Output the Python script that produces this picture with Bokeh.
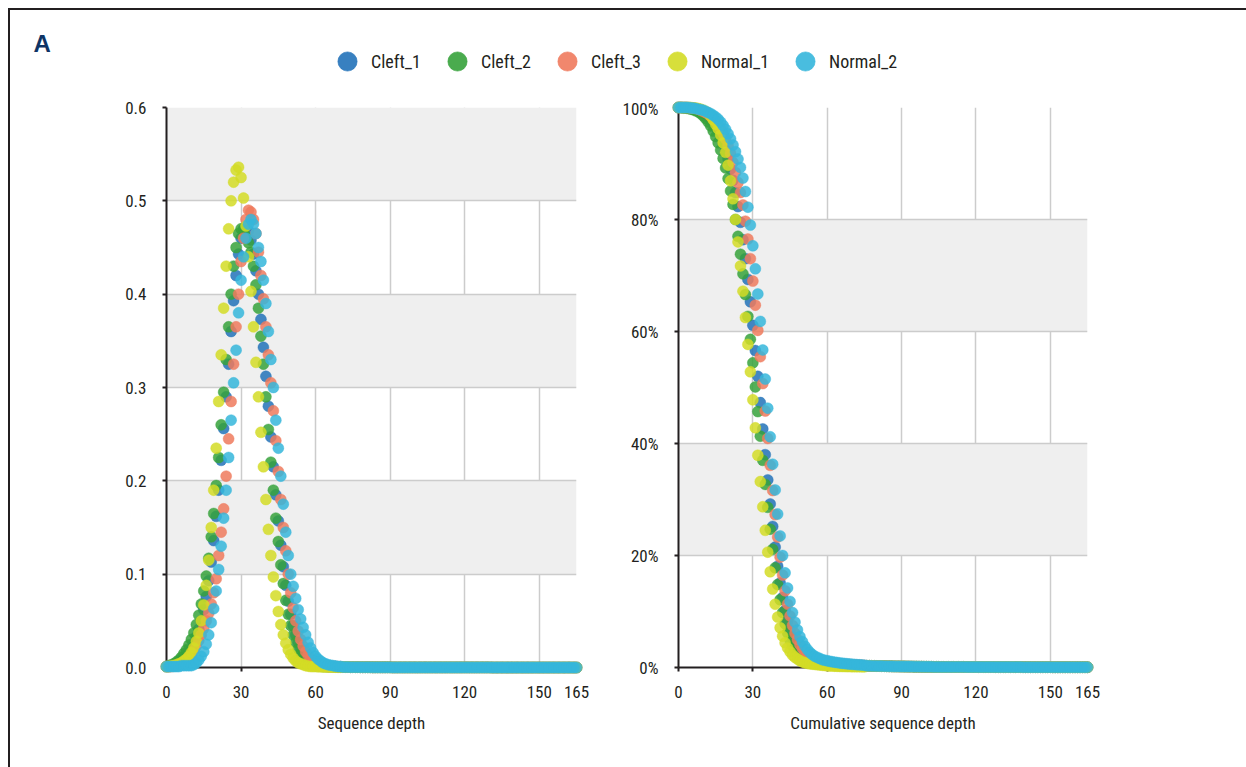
from bokeh.plotting import figure
from bokeh.layouts import column, row
from bokeh.models import (Range1d, FixedTicker, NumeralTickFormatter, Legend,
                          LegendItem, Label, ColumnDataSource)
from bokeh.embed import file_html
from bokeh.resources import INLINE

# ---------------- data ----------------
DEPTH = list(range(166))
X_TICKS = [0, 30, 60, 90, 120, 150, 165]
Y_TICKS_DENS = [0.0, 0.1, 0.2, 0.3, 0.4, 0.5, 0.6]
Y_TICKS_CUM = [0.0, 0.2, 0.4, 0.6, 0.8, 1.0]
SAMPLES = ["Cleft_1", "Cleft_2", "Cleft_3", "Normal_1", "Normal_2"]
COLORS = ["#2272b9", "#36a23b", "#ef7a5d", "#d3dc26", "#35b6db"]

# depth distribution, depth 0..70
C1_DENS = [0.001, 0.001, 0.002, 0.003, 0.004, 0.005, 0.007, 0.009, 0.012, 0.016,
           0.020, 0.026, 0.033, 0.041, 0.050, 0.062, 0.076, 0.093, 0.113, 0.136,
           0.162, 0.190, 0.222, 0.256, 0.290, 0.325, 0.360, 0.393, 0.420, 0.443,
           0.460, 0.470, 0.472, 0.468, 0.458, 0.443, 0.425, 0.400, 0.373, 0.343,
           0.312, 0.280, 0.247, 0.215, 0.185, 0.157, 0.131, 0.108, 0.088, 0.071,
           0.057, 0.045, 0.035, 0.027, 0.021, 0.016, 0.012, 0.009, 0.007, 0.005,
           0.004, 0.003, 0.0025, 0.002, 0.0015, 0.001, 0.001, 0.001, 0.001, 0.0008,
           0.0008]
C2_DENS = [0.001, 0.002, 0.003, 0.004, 0.006, 0.008, 0.011, 0.015, 0.019, 0.024,
           0.030, 0.037, 0.046, 0.056, 0.068, 0.082, 0.098, 0.117, 0.140, 0.165,
           0.195, 0.225, 0.260, 0.295, 0.330, 0.365, 0.400, 0.430, 0.450, 0.465,
           0.470, 0.468, 0.462, 0.455, 0.445, 0.430, 0.410, 0.385, 0.355, 0.325,
           0.290, 0.255, 0.220, 0.190, 0.160, 0.135, 0.110, 0.090, 0.072, 0.057,
           0.045, 0.035, 0.027, 0.020, 0.015, 0.011, 0.008, 0.006, 0.0045, 0.0035,
           0.0025, 0.002, 0.0015, 0.001, 0.001, 0.001, 0.001, 0.0008, 0.0008, 0.0006,
           0.0006]
C3_DENS = [0.001, 0.001, 0.001, 0.002, 0.002, 0.003, 0.004, 0.006, 0.008, 0.011,
           0.014, 0.018, 0.023, 0.029, 0.035, 0.042, 0.050, 0.058, 0.068, 0.080,
           0.095, 0.120, 0.145, 0.170, 0.205, 0.245, 0.285, 0.325, 0.365, 0.400,
           0.435, 0.460, 0.480, 0.490, 0.488, 0.480, 0.465, 0.445, 0.420, 0.395,
           0.365, 0.335, 0.305, 0.275, 0.243, 0.210, 0.180, 0.150, 0.125, 0.100,
           0.080, 0.064, 0.050, 0.039, 0.030, 0.023, 0.017, 0.013, 0.010, 0.007,
           0.005, 0.004, 0.003, 0.002, 0.0015, 0.001, 0.001, 0.001, 0.001, 0.0008,
           0.0008]
N1_DENS = [0.001, 0.001, 0.002, 0.002, 0.003, 0.004, 0.005, 0.007, 0.009, 0.012,
           0.016, 0.021, 0.028, 0.037, 0.050, 0.067, 0.088, 0.115, 0.150, 0.190,
           0.235, 0.285, 0.335, 0.385, 0.430, 0.470, 0.500, 0.520, 0.533, 0.536,
           0.525, 0.503, 0.473, 0.440, 0.403, 0.365, 0.327, 0.290, 0.252, 0.215,
           0.180, 0.148, 0.120, 0.097, 0.077, 0.060, 0.046, 0.035, 0.026, 0.019,
           0.014, 0.010, 0.007, 0.005, 0.004, 0.003, 0.002, 0.0015, 0.001, 0.001,
           0.001, 0.0008, 0.0008, 0.0006, 0.0006, 0.0005, 0.0005, 0.0004, 0.0004, 0.0003,
           0.0003]
N2_DENS = [0.001, 0.001, 0.001, 0.001, 0.001, 0.001, 0.002, 0.002, 0.002, 0.002,
           0.002, 0.003, 0.005, 0.008, 0.012, 0.017, 0.025, 0.035, 0.048, 0.063,
           0.082, 0.105, 0.130, 0.160, 0.190, 0.225, 0.265, 0.305, 0.340, 0.380,
           0.415, 0.440, 0.460, 0.475, 0.480, 0.475, 0.465, 0.450, 0.435, 0.415,
           0.390, 0.360, 0.330, 0.300, 0.265, 0.235, 0.205, 0.175, 0.145, 0.120,
           0.100, 0.087, 0.074, 0.062, 0.052, 0.043, 0.035, 0.027, 0.021, 0.016,
           0.012, 0.009, 0.007, 0.005, 0.004, 0.003, 0.0025, 0.002, 0.0015, 0.001,
           0.001]
# shared near-zero tail, depth 71..165
DENS_TAIL = [0.0005, 0.0005, 0.0005, 0.0004, 0.0004, 0.0004, 0.0004, 0.0003, 0.0003, 0.0003,
             0.0003, 0.0003, 0.0002, 0.0002, 0.0002, 0.0002, 0.0002, 0.0002, 0.0002, 0.0002,
             0.0001, 0.0001, 0.0001, 0.0001, 0.0001, 0.0001, 0.0001, 0.0001, 0.0001, 0.0001,
             0.0001, 0.0001, 0.0001, 0.0001, 0.0001, 0.0001, 0.0001, 0.0001, 0.0001, 0.0001,
             0.0001, 0.0001, 0.0001, 0.0001, 0.0001, 0.0001, 0.0001, 0.0001, 0.0001, 0.0001,
             0.0001, 0.0001, 0.0001, 0.0001, 0.0001, 0.0001, 0.0001, 0.0001, 0.0001, 0.0001,
             0.0, 0.0, 0.0, 0.0, 0.0, 0.0, 0.0, 0.0, 0.0, 0.0,
             0.0, 0.0, 0.0, 0.0, 0.0, 0.0, 0.0, 0.0, 0.0, 0.0,
             0.0, 0.0, 0.0, 0.0, 0.0, 0.0, 0.0, 0.0, 0.0, 0.0,
             0.0, 0.0, 0.0, 0.0, 0.0]

# cumulative fraction of bases with depth >= x, depth 0..75
C1_CUM = [1.0, 1.0, 1.0, 1.0, 0.999, 0.999, 0.998, 0.997, 0.995, 0.993,
          0.990, 0.987, 0.983, 0.978, 0.972, 0.965, 0.957, 0.948, 0.937, 0.924,
          0.908, 0.890, 0.870, 0.848, 0.823, 0.795, 0.764, 0.730, 0.693, 0.653,
          0.611, 0.566, 0.520, 0.473, 0.426, 0.380, 0.335, 0.292, 0.252, 0.215,
          0.181, 0.151, 0.125, 0.102, 0.083, 0.067, 0.054, 0.044, 0.036, 0.029,
          0.024, 0.020, 0.017, 0.014, 0.012, 0.011, 0.010, 0.009, 0.0085, 0.008,
          0.0075, 0.007, 0.0065, 0.006, 0.0057, 0.0054, 0.0051, 0.0048, 0.0045, 0.0043,
          0.0041, 0.0039, 0.0037, 0.0035, 0.0033, 0.0031]
C2_CUM = [1.0, 1.0, 0.999, 0.999, 0.998, 0.997, 0.996, 0.994, 0.992, 0.989,
          0.985, 0.980, 0.974, 0.967, 0.958, 0.948, 0.937, 0.924, 0.909, 0.892,
          0.873, 0.851, 0.827, 0.800, 0.770, 0.738, 0.703, 0.666, 0.627, 0.586,
          0.544, 0.501, 0.457, 0.413, 0.370, 0.327, 0.286, 0.247, 0.211, 0.178,
          0.148, 0.121, 0.098, 0.078, 0.062, 0.049, 0.039, 0.031, 0.025, 0.020,
          0.016, 0.013, 0.011, 0.0095, 0.0085, 0.0075, 0.007, 0.0065, 0.006, 0.0055,
          0.005, 0.0047, 0.0044, 0.0041, 0.0038, 0.0036, 0.0034, 0.0032, 0.003, 0.0029,
          0.0028, 0.0027, 0.0026, 0.0025, 0.0024, 0.0023]
C3_CUM = [1.0, 1.0, 1.0, 1.0, 1.0, 0.999, 0.999, 0.998, 0.997, 0.995,
          0.993, 0.991, 0.988, 0.984, 0.980, 0.975, 0.969, 0.962, 0.954, 0.944,
          0.932, 0.918, 0.902, 0.884, 0.866, 0.848, 0.826, 0.797, 0.765, 0.730,
          0.690, 0.647, 0.602, 0.555, 0.507, 0.458, 0.409, 0.361, 0.316, 0.273,
          0.233, 0.197, 0.165, 0.137, 0.113, 0.092, 0.075, 0.061, 0.050, 0.041,
          0.034, 0.028, 0.023, 0.020, 0.017, 0.015, 0.013, 0.012, 0.011, 0.010,
          0.009, 0.0085, 0.008, 0.0075, 0.007, 0.0066, 0.0062, 0.0058, 0.0055, 0.0052,
          0.0049, 0.0046, 0.0043, 0.004, 0.0038, 0.0036]
N1_CUM = [1.0, 1.0, 1.0, 1.0, 1.0, 1.0, 0.999, 0.999, 0.998, 0.997,
          0.995, 0.993, 0.990, 0.985, 0.978, 0.970, 0.962, 0.951, 0.937, 0.920,
          0.897, 0.869, 0.837, 0.800, 0.760, 0.717, 0.672, 0.625, 0.577, 0.528,
          0.478, 0.428, 0.379, 0.332, 0.287, 0.245, 0.206, 0.171, 0.140, 0.113,
          0.090, 0.071, 0.056, 0.044, 0.035, 0.028, 0.022, 0.018, 0.015, 0.012,
          0.010, 0.0085, 0.0075, 0.0065, 0.006, 0.0055, 0.005, 0.0045, 0.004, 0.0035,
          0.003, 0.0028, 0.0026, 0.0024, 0.0022, 0.002, 0.0019, 0.0018, 0.0017, 0.0016,
          0.0015, 0.0015, 0.0014, 0.0014, 0.0013, 0.0013]
N2_CUM = [1.0, 1.0, 1.0, 1.0, 1.0, 0.999, 0.999, 0.998, 0.997, 0.996,
          0.995, 0.993, 0.991, 0.989, 0.986, 0.983, 0.979, 0.974, 0.968, 0.961,
          0.953, 0.944, 0.933, 0.921, 0.908, 0.893, 0.874, 0.850, 0.822, 0.790,
          0.753, 0.712, 0.667, 0.618, 0.567, 0.515, 0.463, 0.412, 0.363, 0.317,
          0.274, 0.235, 0.200, 0.169, 0.142, 0.118, 0.098, 0.081, 0.067, 0.055,
          0.046, 0.038, 0.032, 0.027, 0.023, 0.020, 0.018, 0.016, 0.014, 0.013,
          0.012, 0.011, 0.0102, 0.0095, 0.0088, 0.0082, 0.0076, 0.0071, 0.0066, 0.0062,
          0.0058, 0.0054, 0.005, 0.0047, 0.0044, 0.0041]
# shared near-zero tail, depth 76..165
CUM_TAIL = [0.003, 0.003, 0.0029, 0.0028, 0.0027, 0.0026, 0.0025, 0.0024, 0.0023, 0.0022,
            0.0021, 0.002, 0.002, 0.0019, 0.0018, 0.0018, 0.0017, 0.0016, 0.0016, 0.0015,
            0.0015, 0.0014, 0.0014, 0.0013, 0.0013, 0.0012, 0.0012, 0.0011, 0.0011, 0.0011,
            0.001, 0.001, 0.001, 0.001, 0.001, 0.001, 0.001, 0.001, 0.001, 0.001,
            0.0009, 0.0009, 0.0009, 0.0009, 0.0009, 0.0008, 0.0008, 0.0008, 0.0008, 0.0008,
            0.0008, 0.0008, 0.0007, 0.0007, 0.0007, 0.0007, 0.0007, 0.0007, 0.0007, 0.0007,
            0.0007, 0.0007, 0.0007, 0.0006, 0.0006, 0.0006, 0.0006, 0.0006, 0.0006, 0.0006,
            0.0006, 0.0006, 0.0006, 0.0006, 0.0006, 0.0005, 0.0005, 0.0005, 0.0005, 0.0005,
            0.0005, 0.0005, 0.0005, 0.0005, 0.0005, 0.0005, 0.0005, 0.0005, 0.0005, 0.0005]

DENS = [C1_DENS + DENS_TAIL, C2_DENS + DENS_TAIL, C3_DENS + DENS_TAIL,
        N1_DENS + DENS_TAIL, N2_DENS + DENS_TAIL]
CUM = [C1_CUM + CUM_TAIL, C2_CUM + CUM_TAIL, C3_CUM + CUM_TAIL,
       N1_CUM + CUM_TAIL, N2_CUM + CUM_TAIL]
for s in DENS + CUM:
    assert len(s) == len(DEPTH), len(s)

# ---------------- style ----------------
FONT = "'Liberation Sans Narrow', 'Roboto Condensed', 'DejaVu Sans Condensed', sans-serif"
INK = "#231f20"


def make_plot(width, left, right, xlabel, yticks, yfmt, sources):
    p = figure(width=width, height=669, x_range=Range1d(0, 165), y_range=Range1d(yticks[0], yticks[-1]),
               output_backend="svg", toolbar_location=None,
               min_border_left=left, min_border_right=right, min_border_top=9, min_border_bottom=100)
    p.xaxis.ticker = FixedTicker(ticks=X_TICKS)
    p.yaxis.ticker = FixedTicker(ticks=yticks)
    p.yaxis.formatter = NumeralTickFormatter(format=yfmt)
    p.xaxis.axis_label = xlabel
    for ax in (p.xaxis[0], p.yaxis[0]):
        ax.axis_line_color = INK
        ax.axis_line_width = 2
        ax.major_tick_line_color = INK
        ax.major_tick_line_width = 2
        ax.major_tick_in = 0
        ax.major_tick_out = 4
        ax.minor_tick_line_color = None
        ax.major_label_text_font = FONT
        ax.major_label_text_font_size = "17px"
        ax.major_label_text_color = INK
    p.xaxis.major_label_standoff = 14
    p.yaxis.major_label_standoff = 16
    p.xaxis.axis_label_text_font = FONT
    p.xaxis.axis_label_text_font_size = "17px"
    p.xaxis.axis_label_text_font_style = "normal"
    p.xaxis.axis_label_text_color = INK
    p.xaxis.axis_label_standoff = 12
    p.xgrid.grid_line_color = "#cccccc"
    p.xgrid.grid_line_width = 1.5
    p.ygrid.grid_line_color = "#cccccc"
    p.ygrid.grid_line_width = 1.5
    p.ygrid.band_fill_color = "#efefef"
    p.ygrid.band_fill_alpha = 1.0
    p.outline_line_color = None
    for color, src in zip(COLORS, sources):
        p.scatter("depth", "value", source=src, size=11, fill_color=color, fill_alpha=0.85,
                  line_color=color, line_alpha=0.4, level="overlay")
    return p


DENS_SRC = [ColumnDataSource(dict(depth=DEPTH, value=v)) for v in DENS]
CUM_SRC = [ColumnDataSource(dict(depth=DEPTH, value=v)) for v in CUM]

p1 = make_plot(608, 156, 42, "Sequence depth", Y_TICKS_DENS, "0.0", DENS_SRC)
p2 = make_plot(628, 60, 159, "Cumulative sequence depth", Y_TICKS_CUM, "0%", CUM_SRC)

# header with panel letter and legend
header = figure(width=1236, height=88, x_range=Range1d(0, 1), y_range=Range1d(0, 1),
                output_backend="svg", toolbar_location=None, min_border=0,
                x_axis_location=None, y_axis_location=None)
header.grid.visible = False
header.outline_line_color = None
items = []
for name, color, src in zip(SAMPLES, COLORS, DENS_SRC):
    r = header.scatter("depth", "value", source=src, size=20, fill_color=color, fill_alpha=0.9,
                       line_color=color, line_alpha=0.6, visible=False)
    items.append(LegendItem(label=name, renderers=[r]))
legend = Legend(items=items, orientation="horizontal", location=(313, 13),
                glyph_width=48, glyph_height=48, label_standoff=0, spacing=12,
                padding=0, margin=0, border_line_color=None, background_fill_alpha=0,
                inactive_fill_alpha=0,
                label_text_font=FONT, label_text_font_size="18px", label_text_color=INK)
header.add_layout(legend)
header.add_layout(Label(x=23, y=55, x_units="screen", y_units="screen", text="A",
                        text_font="Liberation Sans", text_font_style="bold",
                        text_font_size="24px", text_color="#0e3465",
                        text_baseline="alphabetic"))

layout = column(header, row(p1, p2), margin=(8, 0, 0, 8),
                styles={"border-left": "2px solid #231f20", "border-top": "2px solid #231f20"})

open("out.html", "w").write(file_html(layout, INLINE))
